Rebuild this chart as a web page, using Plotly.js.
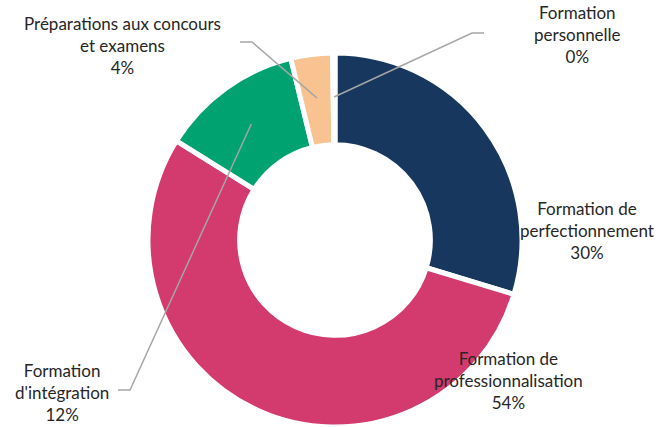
<!DOCTYPE html>
<html>
<head>
<meta charset="utf-8">
<script src="https://cdn.plot.ly/plotly-3.0.1.min.js"></script>
<style>
  html, body { margin: 0; padding: 0; background: #fff; }
  #chart { width: 668px; height: 427px; }
</style>
</head>
<body>
<div id="chart"></div>
<script>
// Data
const categories = [
  'Formation de perfectionnement',
  'Formation de professionnalisation',
  "Formation d'intégration",
  'Préparations aux concours et examens',
  'Formation personnelle'
];
const labelLines = [
  'Formation de<br>perfectionnement',
  'Formation de<br>professionnalisation',
  "Formation<br>d'intégration",
  'Préparations aux concours<br>et examens',
  'Formation<br>personnelle'
];
const shares = [29.7, 54.2, 12.3, 3.6, 0.2];
const colors = ['#17375e', '#d33a6d', '#00a26f', '#f8c391', '#f8c391'];

const W = 668, H = 427;
const cx = 335, cy = 240, R = 187;

// label placement (pixels) and optional leader elbow
const labelPos = [
  { x: 587, y: 230 },
  { x: 508, y: 380 },
  { x: 62, y: 392, elbow: [[118, 390], [130, 390]] },
  { x: 122, y: 45, elbow: [[240, 42], [252, 42]] },
  { x: 577, y: 35, elbow: [[484, 33], [472, 33]] }
];

const px = x => x / W;
const py = y => 1 - y / H;

const total = shares.reduce((a, b) => a + b, 0);
let cum = 0;
const annotations = [];
const shapes = [];
shares.forEach((v, i) => {
  const mid = (cum + v / 2) / total * 2 * Math.PI;
  cum += v;
  const pct = Math.round(v / total * 100) + '%';
  const lp = labelPos[i];
  annotations.push({
    x: px(lp.x), y: py(lp.y), xref: 'paper', yref: 'paper',
    xanchor: 'center', yanchor: 'middle',
    text: labelLines[i] + '<br>' + pct,
    showarrow: false, align: 'center',
    font: { family: 'Lato, sans-serif', size: 17, color: '#262626' }
  });
  if (lp.elbow) {
    const r = 143;
    const ex = cx + r * Math.sin(mid);
    const ey = cy - r * Math.cos(mid);
    const pts = [lp.elbow[0], lp.elbow[1], [ex, ey]];
    const path = pts.map((p, k) => (k ? 'L' : 'M') + px(p[0]) + ',' + py(p[1])).join(' ');
    shapes.push({
      type: 'path', xref: 'paper', yref: 'paper', path: path,
      line: { color: '#a6a6a6', width: 1.5 }
    });
  }
});

const data = [{
  type: 'pie',
  labels: categories,
  values: shares,
  hole: 0.51,
  sort: false,
  direction: 'clockwise',
  rotation: 0,
  textinfo: 'none',
  hoverinfo: 'label+percent',
  marker: { colors: colors, line: { color: '#ffffff', width: 5 } },
  domain: { x: [(cx - R) / W, (cx + R) / W], y: [1 - (cy + R) / H, 1 - (cy - R) / H] }
}];

const layout = {
  width: W, height: H,
  margin: { l: 0, r: 0, t: 0, b: 0 },
  showlegend: false,
  paper_bgcolor: '#ffffff',
  annotations: annotations,
  shapes: shapes
};

Plotly.newPlot('chart', data, layout, { displayModeBar: false, staticPlot: true });
</script>
</body>
</html>
